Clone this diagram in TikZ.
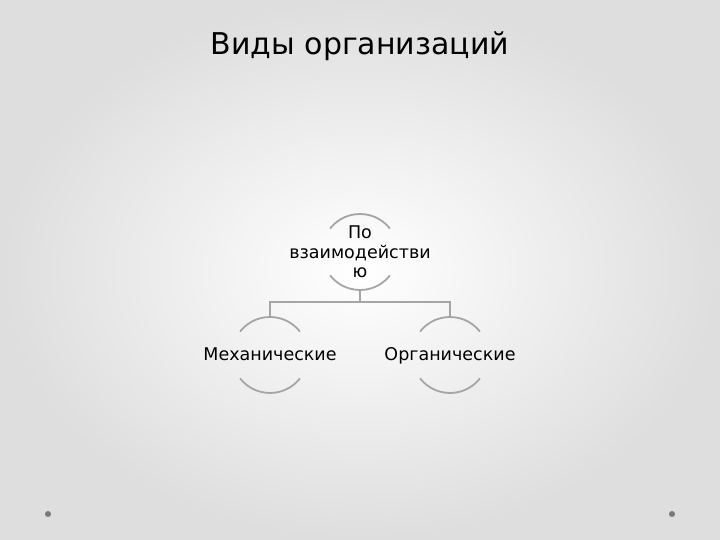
\documentclass[tikz,border=0pt]{standalone}
\usepackage{fontspec}
\setmainfont{DejaVu Sans}
\usetikzlibrary{positioning,calc}
\definecolor{arcgray}{RGB}{165,165,165}
\definecolor{linegray}{RGB}{165,165,165}
\definecolor{dotgray}{RGB}{120,120,120}
\tikzset{>=latex}

\begin{document}
\begin{tikzpicture}[x=1pt,y=1pt, every node/.style={inner sep=0}, font=\fontsize{17.5}{19.5}\selectfont]
	\useasboundingbox (0,0) rectangle (720,540);
	\shade[inner color=white, outer color=black!13] (0,0) rectangle (720,540);
	\fill[dotgray] (48,26) circle (3);
	\fill[dotgray] (672,26) circle (3);

	\node (title) at (360,494) {\fontsize{30}{36}\selectfont Виды организаций};

	\node[align=center] (top) at (360,288) {По\\взаимодействи\\ю};
	\coordinate (mech) at (270,185);
	\coordinate (org) at (450,185);
	\node[anchor=base] (mechtxt) at ($(mech)+(0,-6)$) {Механические};
	\node[anchor=base] (orgtxt) at ($(org)+(0,-6)$) {Органические};

	% arcs round the texts
	\foreach \n in {top,mech,org} {
		\draw[arcgray,line width=1.8pt] ($(\n)+(38:38)$) arc (38:142:38);
		\draw[arcgray,line width=1.8pt] ($(\n)+(218:38)$) arc (218:322:38);
	}

	% connectors
	\coordinate (fork) at (360,238);
	\draw[linegray,line width=1.3pt] ($(top)+(0,-38)$) -- (fork);
	\draw[linegray,line width=1.3pt] ($(mech)+(0,38)$) |- (fork) -| ($(org)+(0,38)$);
\end{tikzpicture}
\end{document}
